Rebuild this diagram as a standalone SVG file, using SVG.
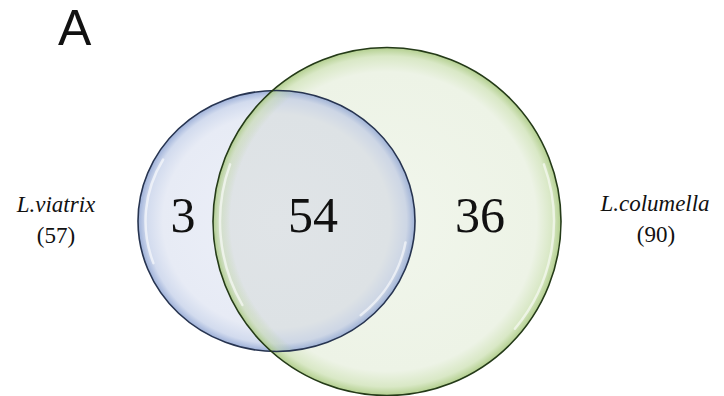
<svg xmlns="http://www.w3.org/2000/svg" width="724" height="396" viewBox="0 0 724 396">
<style>
.serif{font-family:'Liberation Serif','Times New Roman',Tinos,'DejaVu Serif',serif}
.num{font-size:50px;fill:#111;text-anchor:middle}
.lab{font-size:23px;fill:#111;text-anchor:middle}
.hl{fill:none;stroke:#ffffff;stroke-width:2.5;stroke-linecap:round;opacity:0.6}
</style>
<defs>
<radialGradient id="gBlue" cx="0.5" cy="0.5" r="0.5">
<stop offset="0" stop-color="#edf0f8"/>
<stop offset="0.82" stop-color="#e7ebf5"/>
<stop offset="0.94" stop-color="#d2dbee"/>
<stop offset="1" stop-color="#9db0d8"/>
</radialGradient>
<radialGradient id="gGreen" cx="0.5" cy="0.5" r="0.5">
<stop offset="0" stop-color="#f1f6ec"/>
<stop offset="0.86" stop-color="#edf3e6"/>
<stop offset="0.95" stop-color="#d9e8c6"/>
<stop offset="1" stop-color="#b3cf8f"/>
</radialGradient>
<radialGradient id="gOver" cx="0.5" cy="0.5" r="0.5">
<stop offset="0" stop-color="#e0e4e7"/>
<stop offset="0.82" stop-color="#dde2e5"/>
<stop offset="0.94" stop-color="#cdd6e5"/>
<stop offset="1" stop-color="#9fb2d6"/>
</radialGradient>
<radialGradient id="gGreenEdge" cx="0.5" cy="0.5" r="0.5">
<stop offset="0" stop-color="#b3cf8f" stop-opacity="0"/>
<stop offset="0.9" stop-color="#b3cf8f" stop-opacity="0"/>
<stop offset="0.96" stop-color="#c4dba6" stop-opacity="0.45"/>
<stop offset="1" stop-color="#a9c982" stop-opacity="0.9"/>
</radialGradient>
<clipPath id="clipGreen"><circle cx="387" cy="221.5" r="174"/></clipPath>
<clipPath id="clipBlue"><ellipse cx="276.5" cy="221" rx="138.5" ry="130.5"/></clipPath>
</defs>
<rect width="724" height="396" fill="#ffffff"/>
<text x="58" y="45" font-family="'Liberation Sans', Arial, sans-serif" font-size="50" fill="#111">A</text>

<g id="set-viatrix">
<ellipse cx="276.5" cy="221" rx="138.5" ry="130.5" fill="url(#gBlue)"/>
</g>
<g id="set-columella">
<circle cx="387" cy="221.5" r="174" fill="url(#gGreen)"/>
</g>
<g id="overlap">
<ellipse cx="276.5" cy="221" rx="138.5" ry="130.5" fill="url(#gOver)" clip-path="url(#clipGreen)"/>
<circle cx="387" cy="221.5" r="174" fill="url(#gGreenEdge)" clip-path="url(#clipBlue)"/>
</g>
<g id="highlights">
<path class="hl" d="M163.1,159.5 A131,123 0 0 0 153.4,263.1"/>
<path class="hl" d="M405.5,242.4 A131,123 0 0 1 360.7,315.2"/>
<path class="hl" d="M230.1,164.4 A167,167 0 0 0 242.4,305"/>
<path class="hl" d="M543.9,164.4 A167,167 0 0 1 514.9,328.8"/>
</g>
<g id="outlines" fill="none" stroke-width="1.6">
<ellipse cx="276.5" cy="221" rx="138.5" ry="130.5" stroke="#273450"/>
<circle cx="387" cy="221.5" r="174" stroke="#243a18"/>
</g>
<g id="connectors"/>

<g id="counts" class="serif">
<text class="num" x="183" y="232">3</text>
<text class="num" x="313" y="232">54</text>
<text class="num" x="480" y="232">36</text>
</g>
<g id="label-viatrix" class="serif">
<text class="lab" x="56" y="212" font-style="italic">L.viatrix</text>
<text class="lab" x="56" y="243">(57)</text>
</g>
<g id="label-columella" class="serif">
<text class="lab" x="655" y="211" font-style="italic">L.columella</text>
<text class="lab" x="656" y="242">(90)</text>
</g>
</svg>
